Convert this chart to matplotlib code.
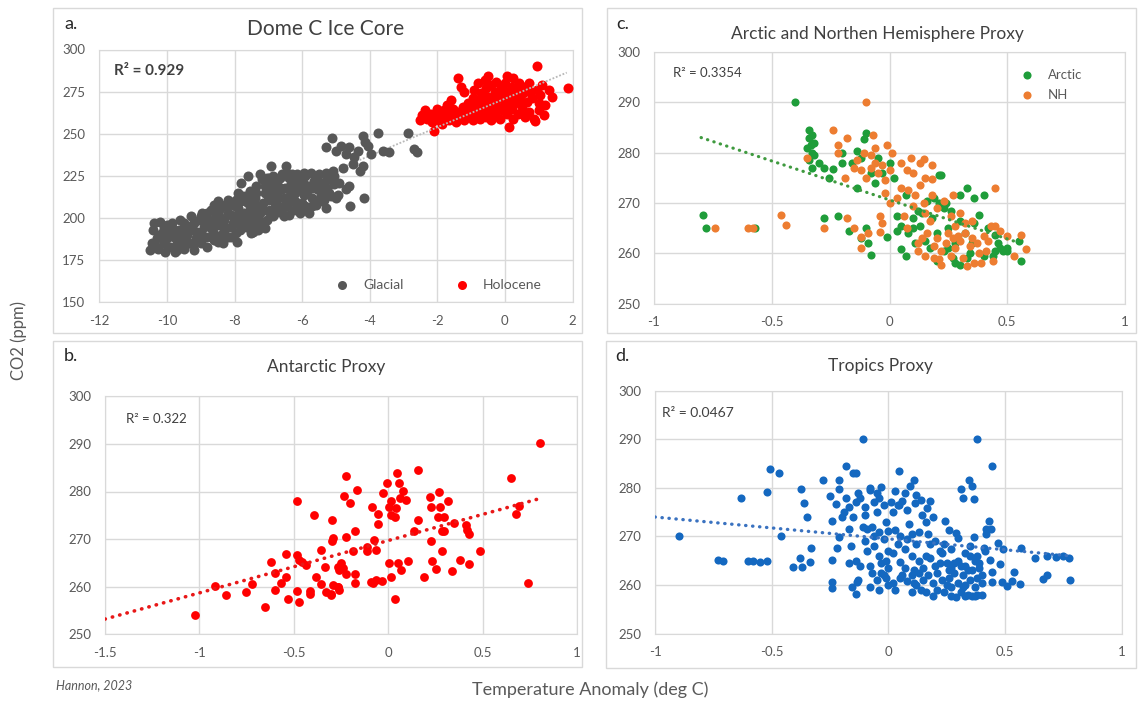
import numpy as np
import matplotlib.pyplot as plt
from matplotlib.patches import Rectangle
from matplotlib.ticker import FuncFormatter

plt.rcParams['font.family'] = ['Lato', 'DejaVu Sans']
plt.rcParams['axes.unicode_minus'] = False

# ---- datos (temperatura, CO2) ----
glacial = [
    (-10.5, 181), (-10.45, 185), (-10.42, 193), (-10.38, 197), (-10.3, 188), (-10.25, 182),
    (-10.2, 198), (-10.15, 191), (-10.1, 185), (-10.05, 180), (-10.0, 188), (-9.95, 194),
    (-9.9, 183), (-9.85, 197), (-9.8, 189), (-9.75, 180), (-9.7, 185), (-9.65, 193),
    (-9.6, 199), (-9.55, 188), (-9.5, 182), (-9.45, 195), (-9.4, 190), (-9.35, 185),
    (-9.3, 201), (-9.25, 196), (-9.2, 181), (-9.15, 188), (-9.1, 192), (-9.05, 199),
    (-9.0, 185), (-8.95, 203), (-8.9, 195), (-8.85, 189), (-8.8, 183), (-8.75, 199),
    (-8.7, 205), (-8.65, 192), (-8.6, 187), (-8.55, 201), (-8.5, 196), (-8.45, 205),
    (-8.4, 190), (-8.35, 185), (-8.3, 199), (-8.25, 194), (-8.2, 203), (-8.15, 208),
    (-8.1, 189), (-8.05, 197), (-8.0, 201), (-7.95, 211), (-7.93, 186), (-7.9, 206),
    (-7.85, 193), (-7.8, 221), (-7.78, 199), (-7.75, 213), (-7.7, 203), (-7.65, 195),
    (-7.6, 209), (-7.55, 216), (-7.5, 191), (-7.48, 200), (-7.45, 206), (-7.4, 212),
    (-7.35, 219), (-7.3, 197), (-7.25, 203), (-7.2, 223), (-7.15, 209), (-7.1, 215),
    (-7.05, 199), (-7.0, 218), (-6.97, 224), (-6.95, 205), (-6.93, 231), (-6.9, 211),
    (-6.85, 201), (-6.8, 221), (-6.75, 215), (-6.7, 207), (-6.65, 224), (-6.6, 203),
    (-6.55, 212), (-6.5, 218), (-6.48, 231), (-6.45, 207), (-6.4, 224), (-6.35, 214),
    (-6.3, 220), (-6.25, 205), (-6.2, 210), (-6.15, 226), (-6.1, 217), (-6.05, 222),
    (-6.0, 209), (-5.95, 214), (-5.9, 225), (-5.85, 205), (-5.8, 219), (-5.75, 227),
    (-5.7, 212), (-5.65, 222), (-5.6, 208), (-5.55, 217), (-5.5, 226), (-5.45, 214),
    (-5.4, 221), (-5.35, 211), (-5.3, 227), (-5.25, 218), (-5.2, 215), (-5.15, 223),
    (-5.1, 228), (-5.05, 220), (-5.0, 212),
    (-5.12, 247.6), (-5.3, 242), (-5.0, 240), (-4.85, 243), (-4.7, 238), (-4.6, 242),
    (-4.45, 236), (-4.35, 240), (-4.2, 249), (-4.15, 245), (-4.05, 243), (-3.95, 238),
    (-3.74, 250.6), (-3.6, 240), (-3.42, 239), (-2.88, 250.6), (-2.7, 241), (-2.6, 239.3),
    (-4.8, 230), (-4.5, 232), (-4.3, 228), (-4.2, 231), (-5.2, 224), (-4.9, 221),
    (-4.7, 217), (-4.57, 207), (-4.18, 212), (-4.6, 219), (-5.4, 210), (-4.95, 214),
    (-7.45, 192), (-7.3, 193), (-7.1, 194), (-8.7, 194), (-9.2, 185), (-9.6, 191),
    (-8.3, 207), (-7.6, 199), (-6.9, 214), (-6.3, 210), (-6.7, 219), (-5.95, 220),
    (-5.55, 223), (-6.05, 203), (-6.45, 227), (-7.2, 206), (-7.7, 210), (-8.1, 195),
    (-8.9, 199), (-9.4, 186), (-10.1, 194), (-9.0, 192), (-8.4, 198), (-7.9, 197),
    (-7.4, 203), (-6.8, 209), (-6.2, 215), (-5.7, 218), (-6.6, 226), (-7.0, 211),
    (-5.3, 206), (-5.8, 203), (-6.55, 201), (-7.55, 205), (-8.2, 211), (-8.6, 208),
    (-10.35, 184), (-10.2, 190), (-10.0, 196), (-9.9, 190), (-9.8, 193), (-9.7, 181),
    (-9.6, 186), (-9.5, 197), (-9.45, 184), (-9.3, 193), (-9.2, 197), (-9.1, 186),
    (-9.0, 201), (-8.95, 188), (-8.85, 197), (-8.8, 203), (-8.7, 189), (-8.6, 197),
    (-8.5, 186), (-8.45, 201), (-8.4, 208), (-8.3, 193), (-8.2, 189), (-8.1, 202),
    (-8.0, 207), (-7.95, 191), (-7.85, 210), (-7.8, 202), (-7.7, 198), (-7.6, 214),
    (-7.5, 196), (-7.4, 208), (-7.35, 215), (-7.3, 201), (-7.2, 198), (-7.1, 219),
    (-7.05, 224), (-7.0, 204), (-6.9, 219), (-6.85, 225), (-6.8, 203), (-6.7, 212),
    (-6.6, 217), (-6.5, 208), (-6.4, 202), (-6.35, 219), (-6.2, 222), (-6.1, 206),
    (-6.0, 218), (-5.9, 207), (-5.85, 216), (-5.7, 207), (-5.6, 225), (-5.5, 211),
    (-5.4, 217), (-5.25, 223), (-5.15, 213), (-5.05, 225), (-7.25, 226), (-6.3, 226),
    (-5.95, 227), (-7.6, 225), (-7.9, 215), (-8.5, 210),
]

holocene = [
    (-2.5, 258), (-2.45, 261), (-2.35, 264), (-2.3, 259), (-2.2, 262), (-2.15, 257),
    (-2.09, 251.5), (-2.05, 260), (-2.0, 265), (-1.95, 258), (-1.9, 262), (-1.85, 256),
    (-1.8, 264), (-1.75, 260), (-1.7, 267), (-1.65, 258), (-1.6, 262), (-1.55, 265),
    (-1.5, 260), (-1.45, 257), (-1.4, 263), (-1.38, 283), (-1.3, 278), (-1.3, 260),
    (-1.25, 266), (-1.2, 275), (-1.2, 258), (-1.15, 262), (-1.1, 268), (-1.05, 260),
    (-1.0, 264), (-0.95, 271), (-0.95, 258), (-0.9, 276), (-0.85, 262), (-0.8, 280),
    (-0.8, 266), (-0.75, 259), (-0.7, 274), (-0.7, 270), (-0.65, 263), (-0.6, 282),
    (-0.6, 267), (-0.55, 277), (-0.55, 260), (-0.5, 284), (-0.5, 272), (-0.45, 265),
    (-0.4, 279), (-0.4, 258), (-0.35, 269), (-0.3, 275), (-0.3, 262), (-0.25, 281),
    (-0.2, 271), (-0.2, 266), (-0.15, 259), (-0.1, 277), (-0.1, 264), (-0.05, 273),
    (0.0, 280), (0.0, 268), (0.06, 284), (0.05, 262), (0.1, 275), (0.12, 254),
    (0.15, 270), (0.2, 278), (0.2, 265), (0.25, 259), (0.3, 273), (0.3, 268),
    (0.35, 276), (0.4, 262), (0.42, 280), (0.45, 270), (0.5, 266), (0.55, 274),
    (0.6, 260), (0.6, 278), (0.65, 269), (0.7, 263), (0.75, 275), (0.8, 271),
    (0.85, 259), (0.9, 257.7), (0.95, 290), (0.95, 276), (1.0, 264.3), (1.0, 268),
    (1.05, 273), (1.1, 279), (1.15, 261), (1.2, 267), (1.39, 272), (1.3, 276),
    (1.86, 277.4), (-0.9, 268), (-0.6, 272), (-0.3, 270), (0.1, 266), (0.5, 262),
    (-0.15, 276), (0.25, 283), (0.7, 280), (-1.6, 270), (-0.85, 270), (-0.45, 261),
]

arctic = [
    (-0.4, 290), (-0.79, 267.7), (-0.78, 265), (-0.57, 265.1), (-0.34, 284.5), (-0.34, 283),
    (-0.335, 281.5), (-0.33, 280), (-0.34, 278.5), (-0.33, 277), (-0.32, 282), (-0.32, 279.5),
    (-0.28, 277), (-0.24, 276.7), (-0.255, 275), (-0.28, 267), (-0.22, 267.5), (-0.14, 273),
    (-0.2, 280), (-0.14, 280.3), (-0.2, 278), (-0.16, 278), (-0.11, 282.7), (-0.1, 284),
    (-0.1, 265), (-0.09, 262), (-0.08, 259.6), (-0.01, 263.3), (-0.05, 279), (-0.03, 276),
    (0.0, 278), (-0.06, 274), (0.21, 275.5), (0.22, 275.5), (0.33, 273), (0.38, 267.7),
    (0.4, 271.5), (0.36, 271), (0.3, 271.5), (0.19, 271), (0.21, 270), (0.23, 269),
    (0.24, 270), (0.07, 271.5), (0.03, 267.5), (0.03, 264.5), (0.05, 265.5), (0.1, 265),
    (0.1, 267), (0.13, 265.5), (0.2, 264), (0.05, 260.8), (0.07, 259.4), (0.17, 261),
    (0.23, 260.5), (0.28, 258), (0.3, 257.7), (0.27, 259), (0.45, 263.7), (0.45, 260.5),
    (0.47, 261), (0.48, 260.5), (0.44, 259.5), (0.55, 262.5), (0.56, 258.4), (0.25, 265),
    (0.32, 264), (0.35, 262), (0.14, 268), (0.08, 264), (0.15, 262.5), (0.26, 268.5),
    (0.42, 265), (0.5, 261), (0.2, 258.5), (0.33, 259), (-0.17, 264.5), (-0.12, 263),
    (-0.33, 283.5), (-0.35, 281), (-0.3, 278), (-0.12, 279), (-0.08, 276), (0.02, 275),
    (0.12, 268.5), (0.18, 267), (0.25, 261), (0.3, 266.5), (0.34, 260), (0.4, 259.5),
    (0.46, 262), (0.5, 260.5), (0.28, 262), (0.36, 266), (0.16, 270.5), (0.11, 262),
]

nh = [
    (-0.74, 265), (-0.58, 265), (-0.6, 265), (-0.46, 267.7), (-0.44, 265.7), (-0.35, 279),
    (-0.24, 284.5), (-0.18, 283), (-0.22, 281.5), (-0.22, 280), (-0.19, 275), (-0.28, 265),
    (-0.18, 267), (-0.15, 265), (-0.12, 263.3), (-0.09, 264), (-0.12, 261), (-0.04, 267.5),
    (-0.04, 264.3), (-0.1, 290), (-0.07, 283.5), (-0.01, 281.5), (-0.15, 277), (-0.12, 276.5),
    (-0.08, 277), (-0.05, 276), (-0.03, 277.5), (-0.1, 275), (-0.08, 279.5), (-0.06, 278),
    (-0.02, 274.5), (0.01, 280), (0.09, 279), (0.145, 278.7), (0.13, 277.9), (0.075, 276.5),
    (0.1, 276), (0.15, 275), (0.18, 274.7), (0.45, 273), (0.11, 271.5), (0.18, 271.5),
    (0.27, 271.5), (0.145, 270), (0.15, 268), (0.2, 269), (0.17, 266.5), (0.06, 267.5),
    (0.28, 265.5), (0.32, 266), (0.43, 265.5), (0.45, 265.5), (0.075, 265), (0.56, 263.7),
    (0.58, 260.8), (0.53, 259.4), (0.22, 257.6), (0.15, 259.5), (0.12, 260.5), (0.19, 261.5),
    (0.24, 262), (0.26, 259.5), (0.3, 262.5), (0.31, 259), (0.33, 257.5), (0.36, 258),
    (0.28, 261), (0.35, 263), (0.38, 260), (0.4, 263.5), (0.2, 263), (0.25, 264),
    (-0.02, 272), (0.0, 270), (0.03, 271), (0.05, 273), (0.12, 262), (0.16, 264),
    (0.22, 260.5), (0.29, 263.5), (0.34, 261.5), (0.44, 258.5), (0.39, 258), (0.21, 258.8),
    (0.1, 269.5), (0.26, 267.5), (-0.03, 266), (0.35, 266.5), (0.42, 262.5),
    (-0.14, 278.5), (-0.11, 280), (-0.06, 281), (0.0, 276.5), (0.05, 278), (0.18, 277.5),
    (0.23, 270.5), (0.3, 268), (0.32, 264), (0.37, 262), (0.41, 260.5), (0.27, 263),
    (0.19, 259), (0.14, 263), (0.47, 264.5), (0.5, 263.5), (0.08, 272.5), (0.13, 273.5),
]

antarctic = [
    (-1.021, 254.1), (-0.919, 260.2), (-0.861, 258.3), (-0.752, 258.9), (-0.72, 260.6),
    (-0.652, 255.7), (-0.62, 265.2), (-0.602, 262.9), (-0.602, 259.3), (-0.567, 260.8),
    (-0.541, 266.9), (-0.541, 262.1), (-0.532, 257.4), (-0.483, 278.1), (-0.481, 266.7),
    (-0.47, 265.6), (-0.433, 264.6), (-0.455, 265.2), (-0.483, 259.2), (-0.47, 256.8),
    (-0.414, 259.1), (-0.414, 258.5), (-0.391, 275.1), (-0.382, 262.1), (-0.356, 267.7),
    (-0.354, 260.6), (-0.337, 264.2), (-0.33, 258.9), (-0.303, 258.5), (-0.296, 274.0),
    (-0.30, 269.6), (-0.29, 270.3), (-0.264, 264.1), (-0.264, 260.0),
    (0.802, 290.1), (0.653, 282.9), (0.695, 277.0), (0.677, 275.2), (0.74, 260.8),
    (0.485, 267.4), (0.159, 284.5), (0.049, 283.8), (-0.004, 281.7), (0.058, 281.7),
    (0.079, 280.2), (-0.025, 279.7), (0.014, 277.9), (0.005, 276.8), (0.04, 276.5),
    (0.035, 274.7), (0.014, 275.1), (0.096, 278.2), (0.063, 278.6), (-0.221, 283.3),
    (-0.163, 280.3), (-0.233, 279.1), (-0.203, 277.5), (-0.087, 276.7), (-0.052, 275.3),
    (-0.053, 273.1), (-0.221, 270.5), (-0.175, 271.6), (-0.074, 269.8), (-0.11, 268.4),
    (-0.11, 267.4), (-0.066, 267.7), (-0.185, 267.5), (-0.25, 264.9), (-0.242, 263.9),
    (-0.259, 263.5), (-0.224, 262.7), (-0.175, 262.7), (-0.175, 260.7), (-0.295, 260.4),
    (-0.268, 260.0), (-0.303, 258.3), (-0.259, 259.3), (-0.092, 261.0), (-0.066, 261.4),
    (-0.031, 261.1), (-0.083, 260.7), (0.005, 265.0), (0.054, 265.0), (0.066, 263.5),
    (0.107, 265.5), (0.017, 262.0), (0.036, 257.4), (0.137, 271.6), (0.159, 274.0),
    (0.22, 278.9), (0.225, 276.7), (0.269, 280.0), (0.274, 276.7), (0.295, 274.7),
    (0.265, 274.6), (0.316, 278.0), (0.348, 273.4), (0.225, 269.7), (0.286, 271.6),
    (0.295, 271.6), (0.286, 267.6), (0.41, 273.0), (0.415, 271.9), (0.427, 271.0),
    (0.233, 265.3), (0.255, 263.7), (0.336, 263.2), (0.378, 265.6), (0.427, 264.8),
    (0.19, 262.1),
]

tropics = [
    (-0.896, 270), (-0.73, 265.1), (-0.71, 265), (-0.6, 264.9), (-0.58, 265), (-0.55, 264.8),
    (-0.52, 264.9), (-0.63, 277.9), (-0.518, 279.2), (-0.508, 283.8), (-0.47, 283), (-0.46, 270),
    (-0.41, 263.8), (-0.37, 263.8), (-0.38, 265.6), (-0.336, 264.7), (-0.33, 267.6),
    (-0.376, 279.7), (-0.36, 276.8), (-0.35, 273.9), (-0.28, 281.7), (-0.24, 265.1),
    (-0.24, 260.6), (-0.24, 259.3), (-0.24, 273.1), (-0.25, 278.3), (-0.226, 276.6),
    (-0.21, 281.7), (-0.21, 279.7), (-0.18, 284.5), (-0.15, 283), (-0.14, 283),
    (-0.22, 267.6), (-0.21, 269.9), (-0.17, 271.5), (-0.17, 264.5), (-0.14, 265),
    (-0.12, 264), (-0.155, 259.5), (-0.14, 258.1), (-0.135, 260.6), (-0.11, 290),
    (-0.19, 275), (-0.17, 276), (-0.15, 274), (-0.14, 277),
    (-0.12, 278), (-0.1, 276), (-0.08, 279.5), (-0.08, 280), (-0.06, 277), (-0.05, 275),
    (-0.04, 278), (-0.03, 280.2), (-0.02, 276.5), (-0.1, 274.5), (-0.07, 272), (-0.09, 271.6),
    (-0.04, 271), (-0.01, 273), (0.0, 271.2), (0.03, 271.3), (0.04, 276.5), (0.03, 279.3),
    (0.044, 283.5), (0.044, 276.5), (0.06, 277.2), (0.08, 275.5), (0.094, 280.4),
    (0.108, 281.7), (0.12, 278.6), (0.115, 276.9), (0.144, 274.5), (0.166, 275.9),
    (0.18, 277.2), (0.19, 274), (0.02, 275), (-0.02, 269.5),
    (-0.09, 267), (-0.06, 268), (-0.04, 266), (-0.03, 264.5), (-0.08, 264), (-0.01, 265),
    (0.0, 263.5), (0.02, 266.5), (0.05, 264.8), (0.07, 267.5), (0.1, 270.5), (0.12, 268.5),
    (0.1, 266), (0.13, 265), (0.15, 263.5), (0.11, 263), (0.06, 262),
    (-0.08, 259.5), (-0.05, 261), (-0.03, 262.5), (-0.01, 261.5), (0.02, 260.5),
    (0.05, 261.5), (0.08, 260.8), (0.1, 262), (0.12, 260), (0.14, 259), (-0.02, 262), (0.0, 260),
    (0.244, 273.1), (0.258, 271.4), (0.29, 270.7), (0.30, 269.6), (0.365, 269.9), (0.43, 273.1),
    (0.42, 271.5), (0.347, 281.6), (0.357, 280.4), (0.31, 279.7), (0.32, 277.9), (0.365, 277.8),
    (0.38, 290), (0.443, 284.5), (0.2, 269), (0.22, 267), (0.18, 265.5), (0.2, 264),
    (0.23, 266.5), (0.25, 264.5), (0.27, 267.5), (0.3, 265), (0.33, 264), (0.35, 266),
    (0.37, 265), (0.39, 263.5), (0.4, 262), (0.17, 262), (0.19, 260.5), (0.21, 259),
    (0.23, 261), (0.25, 260), (0.27, 259.5), (0.29, 257.5), (0.31, 258.5), (0.33, 260),
    (0.35, 261), (0.37, 259.5), (0.38, 258), (0.36, 257.7), (0.34, 263), (0.32, 262),
    (0.28, 262.5), (0.26, 263), (0.16, 258.5), (0.15, 261), (0.4, 260.5), (0.39, 264.5),
    (0.47, 268.6), (0.49, 267.5), (0.57, 267.6), (0.628, 265.5), (0.72, 265.8), (0.775, 265.5),
    (0.664, 261.3), (0.678, 262), (0.78, 261), (0.564, 260.3), (0.53, 260.9), (0.486, 260.6),
    (0.443, 260.6), (0.443, 262.7), (0.436, 265.1), (0.415, 266.9), (0.48, 264.3), (0.54, 262.7),
    (0.41, 267.6), (0.68, 266), (0.75, 266), (0.44, 271.5), (0.42, 270.5), (0.51, 259.8),
    (-0.13, 279), (-0.11, 272), (-0.06, 270), (-0.05, 279), (0.01, 277), (0.05, 270),
    (0.07, 279), (0.09, 272.5), (0.13, 271), (0.14, 277.5), (0.16, 273), (0.1, 258.5),
    (0.16, 266), (0.18, 268.5), (0.21, 262.5), (0.22, 264.5), (0.24, 258.5), (0.26, 261.5),
    (0.28, 264.5), (0.3, 260.5), (0.32, 259.5), (0.33, 266.5), (0.34, 258), (0.36, 263),
    (0.38, 261.5), (0.38, 266), (0.4, 258), (-0.07, 262.5), (-0.04, 259), (0.03, 259),
    (0.07, 263.5), (0.11, 260.5), (0.13, 262.5), (-0.1, 269), (0.0, 267), (0.04, 268.5),
    (0.08, 269.5), (-0.18, 278), (-0.2, 274), (-0.16, 268), (-0.13, 261), (0.17, 270.5),
    (0.24, 268.5), (0.27, 263.5), (0.35, 268), (0.31, 264), (0.19, 257.7), (0.27, 257.7),
    (0.33, 257.7), (0.37, 257.7),
]

# lineas de tendencia (extremos)
trend_a = [(-10.5, 182.0), (1.83, 286.3)]
trend_b = [(-1.5, 253.2), (0.81, 278.6)]
trend_c = [(-0.8, 283.0), (0.55, 262.1)]
trend_d = [(-1.0, 274.0), (0.78, 266.0)]

GRID = '#d9d9d9'
TXT = '#595959'
W, H = 1139, 706


def px_axes(fig, x0, y0, x1, y1):
    # rectangulo en pixeles (origen arriba a la izquierda)
    return fig.add_axes([x0 / W, 1 - y1 / H, (x1 - x0) / W, (y1 - y0) / H])


def style(ax, xlim, ylim, xticks, yticks):
    ax.set_xlim(*xlim)
    ax.set_ylim(*ylim)
    ax.set_xticks(xticks)
    ax.set_yticks(yticks)
    ax.xaxis.set_major_formatter(FuncFormatter(lambda v, p: f'{v:g}'))
    ax.grid(True, color=GRID, linewidth=1)
    ax.set_axisbelow(True)
    for s in ax.spines.values():
        s.set_color(GRID)
    ax.tick_params(length=0, labelsize=9.5, labelcolor=TXT)
    ax.tick_params(axis='x', pad=9)
    ax.tick_params(axis='y', pad=10)


def trend(ax, pts, color, lw, z=4):
    t = np.array(pts)
    ax.plot(t[:, 0], t[:, 1], color=color, lw=lw, linestyle=(0, (0.1, 2.0)),
            dash_capstyle='round', zorder=z)


fig = plt.figure(figsize=(W / 100, H / 100), dpi=100)

# marcos de cada panel
for x0, y0, x1, y1 in [(53, 8, 582, 333), (607, 8, 1136, 333),
                       (53, 341, 582, 667), (606, 341, 1136, 668)]:
    fig.patches.append(Rectangle((x0 / W, 1 - y1 / H), (x1 - x0) / W, (y1 - y0) / H,
                                 transform=fig.transFigure, fill=False,
                                 edgecolor=GRID, linewidth=1))

# a. Dome C
ax = px_axes(fig, 99.3, 49.5, 572.5, 302.5)
g = np.array(glacial)
h = np.array(holocene)
ax.scatter(g[:, 0], g[:, 1], s=52, color='#575757', label='Glacial', zorder=5, linewidths=0)
ax.scatter(h[:, 0], h[:, 1], s=52, color='#ff0000', label='Holocene', zorder=3, linewidths=0)
ta = np.array(trend_a)
ax.plot(ta[:, 0], ta[:, 1], color='#b8b8b8', lw=1.3, linestyle=(0, (1, 1)), zorder=4)
style(ax, (-12, 2), (150, 300), np.arange(-12, 3, 2), np.arange(150, 301, 25))
ax.text(0.032, 0.915, 'R² = 0.929', transform=ax.transAxes, fontsize=11,
        fontweight='bold', color='#404040', va='center')
ax.legend(loc='center', bbox_to_anchor=(0.715, 0.07), ncol=2, frameon=False,
          fontsize=10, labelcolor=TXT, handletextpad=0.9, columnspacing=3.6,
          handlelength=1.2, markerscale=0.9)

# c. Arctic / NH
ax = px_axes(fig, 654, 52, 1125, 303.7)
a = np.array(arctic)
n = np.array(nh)
ax.scatter(a[:, 0], a[:, 1], s=34, color='#1f9d3a', label='Arctic', zorder=3, linewidths=0)
ax.scatter(n[:, 0], n[:, 1], s=34, color='#ed7d31', label='NH', zorder=3, linewidths=0)
trend(ax, trend_c, '#3f9a3f', 2.3)
style(ax, (-1, 1), (250, 300), np.arange(-1, 1.01, 0.5), np.arange(250, 301, 10))
ax.text(0.04, 0.915, 'R² = 0.3354', transform=ax.transAxes, fontsize=9.5,
        color='#404040', va='center')
ax.legend(loc='upper left', bbox_to_anchor=(0.75, 0.98), frameon=False,
          fontsize=9.5, labelcolor=TXT, handletextpad=1.0, labelspacing=0.6,
          handlelength=1.2)

# b. Antarctic
ax = px_axes(fig, 105, 396.3, 577, 634.3)
b = np.array(antarctic)
ax.scatter(b[:, 0], b[:, 1], s=40, color='#ff0000', zorder=3, linewidths=0)
trend(ax, trend_b, '#e81818', 2.6)
style(ax, (-1.5, 1), (250, 300), np.arange(-1.5, 1.01, 0.5), np.arange(250, 301, 10))
ax.text(0.045, 0.905, 'R² = 0.322', transform=ax.transAxes, fontsize=9.5,
        color='#404040', va='center')

# d. Tropics
ax = px_axes(fig, 655, 390.7, 1121.7, 633.6)
d = np.array(tropics)
ax.scatter(d[:, 0], d[:, 1], s=34, color='#1468c0', zorder=3, linewidths=0)
trend(ax, trend_d, '#3a72c0', 2.4)
style(ax, (-1, 1), (250, 300), np.arange(-1, 1.01, 0.5), np.arange(250, 301, 10))
ax.text(0.015, 0.91, 'R² = 0.0467', transform=ax.transAxes, fontsize=10,
        color='#404040', va='center')

# titulos y etiquetas de panel
def ftext(x, y, s, **kw):
    fig.text(x / W, 1 - y / H, s, **kw)

ftext(71, 24, 'a.', fontsize=13, color='#262626', ha='center', va='center')
ftext(623, 24, 'c.', fontsize=13, color='#262626', ha='center', va='center')
ftext(71, 356, 'b.', fontsize=13, color='#262626', ha='center', va='center')
ftext(622, 356, 'd.', fontsize=13, color='#262626', ha='center', va='center')
ftext(326, 29, 'Dome C Ice Core', fontsize=15, color='#404040', ha='center', va='center')
ftext(877, 34, 'Arctic and Northen Hemisphere Proxy', fontsize=12.5, color='#404040',
      ha='center', va='center')
ftext(326, 367, 'Antarctic Proxy', fontsize=12.5, color='#404040', ha='center', va='center')
ftext(880, 366, 'Tropics Proxy', fontsize=12.5, color='#404040', ha='center', va='center')

ftext(19, 341, 'CO2 (ppm)', fontsize=12, color=TXT, rotation=90, ha='center', va='center')
ftext(590, 690, 'Temperature Anomaly (deg C)', fontsize=13, color=TXT, ha='center', va='center')
ftext(56, 685, 'Hannon, 2023', fontsize=9, color=TXT, style='italic', ha='left', va='center')

plt.savefig('out.png', dpi=100)
